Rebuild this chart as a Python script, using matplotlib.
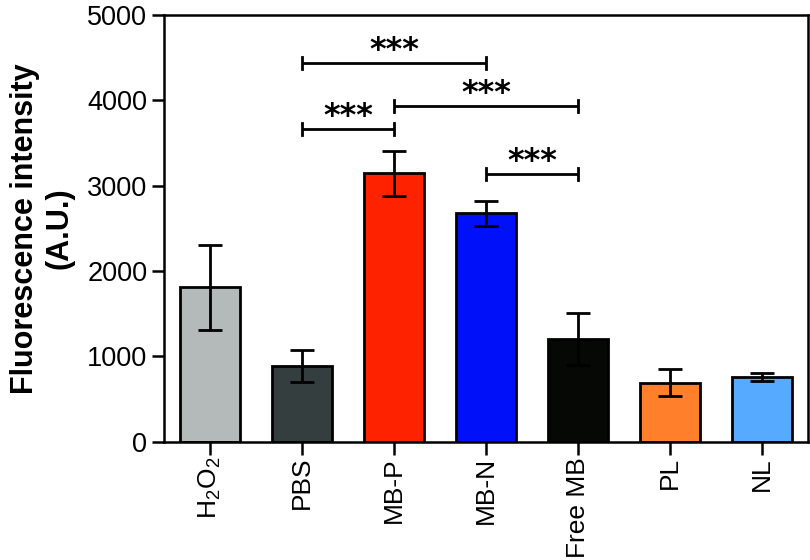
import matplotlib
matplotlib.use("Agg")
import matplotlib.pyplot as plt
import numpy as np

plt.rcParams['font.family'] = ['Liberation Sans', 'DejaVu Sans']
plt.rcParams['mathtext.fontset'] = 'custom'
plt.rcParams['mathtext.rm'] = 'Liberation Sans'
plt.rcParams['mathtext.it'] = 'Liberation Sans'
plt.rcParams['mathtext.bf'] = 'Liberation Sans:bold'

categories = [r'H$_\mathregular{2}$O$_\mathregular{2}$', 'PBS', 'MB-P', 'MB-N', 'Free MB', 'PL', 'NL']
values = [1810, 890, 3145, 2677, 1200, 692, 758]
errors = [500, 185, 265, 147, 305, 156, 49]
colors = ['#b3bab9', '#353e3e', '#ff2200', '#0010f8', '#060806', '#ff7f2a', '#56aaff']

# significance brackets: (left index, right index, height, label)
brackets = [(1, 3, 4441, '***'), (2, 4, 3938, '***'), (1, 2, 3665, '***'), (3, 4, 3137, '***')]

fig = plt.figure(figsize=(8.1, 5.6), dpi=100)
ax = fig.add_axes([0.2025, 0.2113, 0.795, 0.7619])

x = np.arange(len(categories))
ax.bar(x, values, width=0.66, color=colors, edgecolor='black', linewidth=2.0, zorder=2)
ax.errorbar(x, values, yerr=errors, fmt='none', ecolor='black', elinewidth=2.0,
            capsize=8.5, capthick=2.0, zorder=3)

tick_h = 70
for i, j, h, lab in brackets:
    ax.plot([i, j], [h, h], color='black', lw=2.0, solid_capstyle='butt', zorder=4)
    ax.plot([i, i], [h - tick_h, h + tick_h], color='black', lw=2.0, zorder=4)
    ax.plot([j, j], [h - tick_h, h + tick_h], color='black', lw=2.0, zorder=4)
    ax.text((i + j) / 2, h - 40, lab, ha='center', va='bottom', fontsize=23,
            fontweight='bold', family='DejaVu Sans')

ax.set_xlim(-0.5, 6.5)
ax.set_ylim(0, 5000)
ax.set_yticks([0, 1000, 2000, 3000, 4000, 5000])
ax.set_xticks(x)
ax.set_xticklabels(categories, rotation=90, fontsize=19)
ax.tick_params(axis='y', labelsize=19.5, length=9, width=1.8, pad=3)
ax.tick_params(axis='x', length=9, width=1.8, pad=2)
for s in ax.spines.values():
    s.set_linewidth(1.8)

ax.set_ylabel('Fluorescence intensity\n(A.U.)', fontsize=22, fontweight='bold', labelpad=9,
              linespacing=1.2)

fig.savefig('out.png', dpi=100)
